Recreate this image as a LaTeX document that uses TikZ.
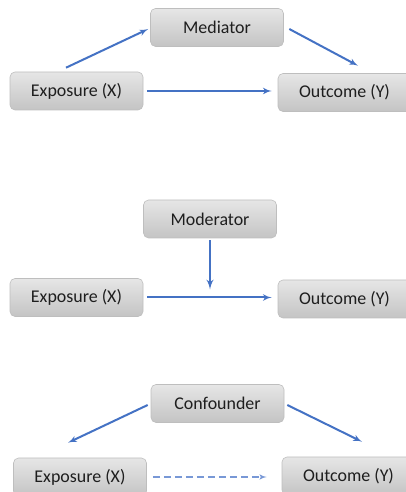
\documentclass[tikz,border=0pt]{standalone}
\usepackage{fontspec}
\setmainfont{Carlito}
\usepackage{tikz}
\usetikzlibrary{arrows,shapes}
\definecolor{arrowblue}{RGB}{68,114,196}
\definecolor{dashblue}{RGB}{120,152,214}
\definecolor{boxtop}{RGB}{230,230,230}
\definecolor{boxbot}{RGB}{196,196,196}
\definecolor{boxline}{RGB}{190,190,190}
\definecolor{textgray}{RGB}{30,30,30}
\tikzset{
  varbox/.style={draw=boxline,line width=0.6bp,rounded corners=5bp,
    top color=boxtop,bottom color=boxbot,text=textgray,
    minimum width=133bp,minimum height=38bp,
    font=\fontsize{18}{20}\selectfont},
  link/.style={->,draw=arrowblue,line width=2bp},
  weaklink/.style={->,draw=dashblue,line width=1.5bp,dash pattern=on 7bp off 4bp},
}

\begin{document}
\begin{tikzpicture}[>=latex',line join=bevel,]
\useasboundingbox (0bp,0bp) rectangle (406bp,492bp);
%% mediation
\node (med) at (217.0bp,464.5bp) [varbox] {Mediator};
  \node (exp1) at (76.5bp,401.0bp) [varbox] {Exposure (X)};
  \node (out1) at (344.5bp,399.5bp) [varbox] {Outcome (Y)};
  \draw [link] ([shift={(-10.5bp,4bp)}]exp1.north) -- ([xshift=-2bp,yshift=-1.5bp]med.west);
  \draw [link] ([xshift=5.5bp,yshift=-1.5bp]med.east) -- ([shift={(13.5bp,7.5bp)}]out1.north);
  \draw [link,shorten <=4bp,shorten >=6bp] (exp1.east) -- (exp1.east -| out1.west);
%% moderation
\node (mod) at (210.0bp,273.0bp) [varbox] {Moderator};
  \node (exp2) at (76.5bp,194.5bp) [varbox] {Exposure (X)};
  \node (out2) at (344.5bp,193.0bp) [varbox] {Outcome (Y)};
  \draw [link,shorten <=4bp,shorten >=6bp] (exp2.east) -- (exp2.east -| out2.west);
  \draw [link,line width=2.4bp,shorten <=2bp,shorten >=8bp] (mod.south) -- (mod.south |- exp2.east);
%% confounding
\node (conf) at (217.5bp,88.5bp) [varbox] {Confounder};
  \node (exp3) at (80.0bp,15.0bp) [varbox] {Exposure (X)};
  \node (out3) at (348.5bp,16.0bp) [varbox] {Outcome (Y)};
  \draw [link] ([xshift=-3bp,yshift=-1.5bp]conf.west) -- ([shift={(-12bp,15bp)}]exp3.north);
  \draw [link] ([xshift=3bp,yshift=-1.5bp]conf.east) -- ([shift={(13.5bp,15bp)}]out3.north);
  \draw [weaklink,shorten <=6bp,shorten >=15bp] (exp3.east) -- (exp3.east -| out3.west);
%
\end{tikzpicture}
\end{document}
